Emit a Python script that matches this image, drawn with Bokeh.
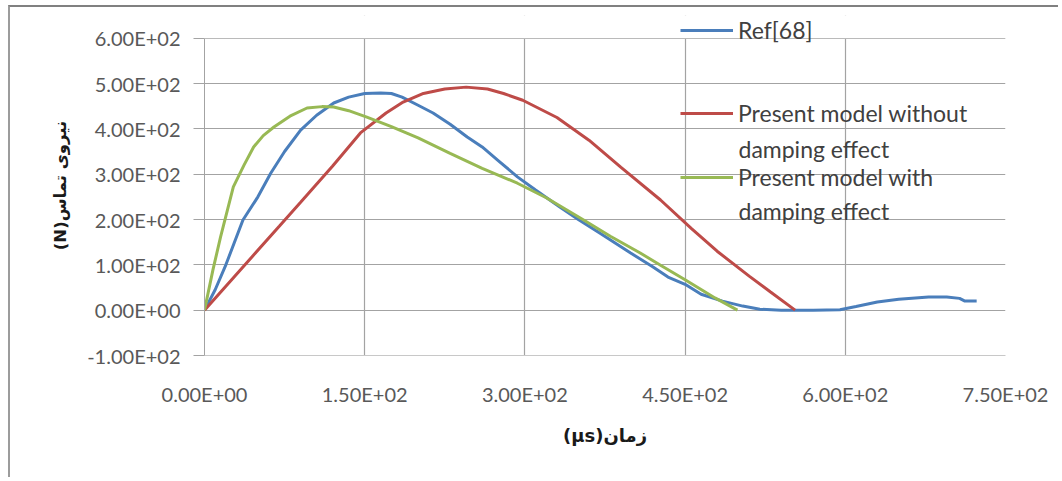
from bokeh.plotting import figure
from bokeh.models import Range1d, FixedTicker, Legend, LegendItem, Label, BoxAnnotation
from bokeh.embed import file_html
from bokeh.resources import INLINE

# ---- data ----
ref_x = [0, 10, 20, 36, 50, 62, 75, 90, 105, 121, 135, 150, 165, 175, 185, 200, 214, 230,
         246, 260, 275, 293, 310, 333, 350, 370, 399, 420, 434, 450, 465, 485, 504, 520,
         540, 570, 595, 610, 630, 650, 678, 695, 707, 712, 723]
ref_y = [0, 45, 100, 199, 250, 302, 350, 397, 430, 457, 470, 478, 479, 478, 470, 452, 435, 410,
         382, 360, 330, 294, 265, 227, 200, 170, 126, 95, 73, 57, 35, 20, 9, 2,
         0, 0, 1, 8, 18, 24, 29, 29, 26, 20, 20]

nodamp_x = [0, 20, 45, 70, 90, 120, 146, 170, 186, 205, 225, 245, 265, 280, 298, 330, 360,
            390, 427, 456, 480, 510, 530, 553]
nodamp_y = [0, 53, 119, 185, 238, 318, 391, 435, 459, 478, 488, 492, 488, 478, 463, 425, 375,
            315, 243, 180, 130, 75, 40, 0]

damp_x = [0, 8, 15, 27, 37, 46, 55, 65, 80, 96, 110, 121, 135, 152, 175, 200, 230, 260, 293,
          320, 355, 380, 408, 427, 450, 478, 499]
damp_y = [0, 90, 161, 272, 320, 360, 385, 404, 428, 446, 449, 448, 440, 426, 405, 380, 346,
          313, 280, 248, 199, 163, 126, 99, 67, 27, 0]

series_names = ["Ref[68]", "Present model without", "Present model with"]
series_second_lines = ["", "damping effect", "damping effect"]

x_ticks = [0, 150, 300, 450, 600, 750]
x_tick_labels = ["0.00E+00", "1.50E+02", "3.00E+02", "4.50E+02", "6.00E+02", "7.50E+02"]
y_ticks = [-100, 0, 100, 200, 300, 400, 500, 600]
y_tick_labels = ["-1.00E+02", "0.00E+00", "1.00E+02", "2.00E+02", "3.00E+02",
                 "4.00E+02", "5.00E+02", "6.00E+02"]

x_title = "(µs)زمان"
y_title = "(N)نیروی تماس"

# ---- figure ----
W, H = 1050, 472
p = figure(width=W, height=H, output_backend="svg", toolbar_location=None,
           x_range=Range1d(0, 750), y_range=Range1d(-100, 650),
           min_border_left=194, min_border_right=55, min_border_top=8, min_border_bottom=124,
           background_fill_color="white", border_fill_color="white")
p.margin = (5, 0, 0, 8)
p.styles = {"border-left": "2px solid #9c9c9c", "border-top": "2px solid #808080"}

p.outline_line_color = None

grid_col = "#a3a3a3"
p.xgrid.grid_line_color = grid_col
p.ygrid.grid_line_color = grid_col
p.xgrid.grid_line_width = 1.2
p.ygrid.grid_line_width = 1.2

p.xaxis.ticker = FixedTicker(ticks=x_ticks)
p.yaxis.ticker = FixedTicker(ticks=y_ticks)
p.xaxis.major_label_overrides = dict(zip(x_ticks, x_tick_labels))
p.yaxis.major_label_overrides = dict(zip(y_ticks, y_tick_labels))
p.yaxis.bounds = (y_ticks[0], y_ticks[-1])

for ax in (p.xaxis[0], p.yaxis[0]):
    ax.major_label_text_font = "Lato"
    ax.major_label_text_font_size = "20px"
    ax.major_label_text_color = "#595959"
    ax.minor_tick_line_color = None
    ax.axis_label_text_font = "DejaVu Sans"
    ax.axis_label_text_font_style = "bold"
    ax.axis_label_text_color = "#1a1a1a"

p.xaxis.axis_label_text_font_size = "18px"
p.yaxis.axis_label_text_font_size = "16.5px"

p.xaxis.axis_line_color = "#c8c8c8"
p.xaxis.major_tick_out = 0
p.xaxis.major_tick_in = 0
p.xaxis.major_label_standoff = 26
p.xaxis.axis_label = x_title
p.xaxis.axis_label_standoff = 16

p.yaxis.axis_line_color = grid_col
p.yaxis.major_tick_line_color = grid_col
p.yaxis.major_tick_out = 11
p.yaxis.major_tick_in = 0
p.yaxis.major_label_standoff = 13
p.yaxis.axis_label = y_title
p.yaxis.axis_label_standoff = 14

# white cover above the top gridline (plot area ends at 600)
p.add_layout(BoxAnnotation(bottom=y_ticks[-1], fill_color="white", fill_alpha=1,
                           line_alpha=0, level="underlay"))

r_ref = p.line(ref_x, ref_y, line_color="#4a7ebb", line_width=3)
r_nod = p.line(nodamp_x, nodamp_y, line_color="#be4b48", line_width=3)
r_dmp = p.line(damp_x, damp_y, line_color="#98b954", line_width=3)

renderers = [r_ref, r_nod, r_dmp]
legend_locs = [(476, 311), (476, 228), (476, 164)]
second_line_y = [None, 207, 145]

for name, r, loc, second, sy in zip(series_names, renderers, legend_locs,
                                    series_second_lines, second_line_y):
    lg = Legend(items=[LegendItem(label=name, renderers=[r])], location=loc,
                label_text_font="Lato", label_text_font_size="23px",
                label_text_color="#404040", glyph_width=53, glyph_height=24,
                label_height=24, label_standoff=5, padding=0, margin=0, spacing=0,
                border_line_alpha=0, background_fill_alpha=0)
    p.add_layout(lg, "center")
    if second:
        p.add_layout(Label(x=534, y=sy, x_units="screen", y_units="screen", text=second,
                           text_baseline="middle", text_font="Lato",
                           text_font_size="23px", text_color="#404040"))

open("out.html", "w").write(file_html(p, INLINE))
